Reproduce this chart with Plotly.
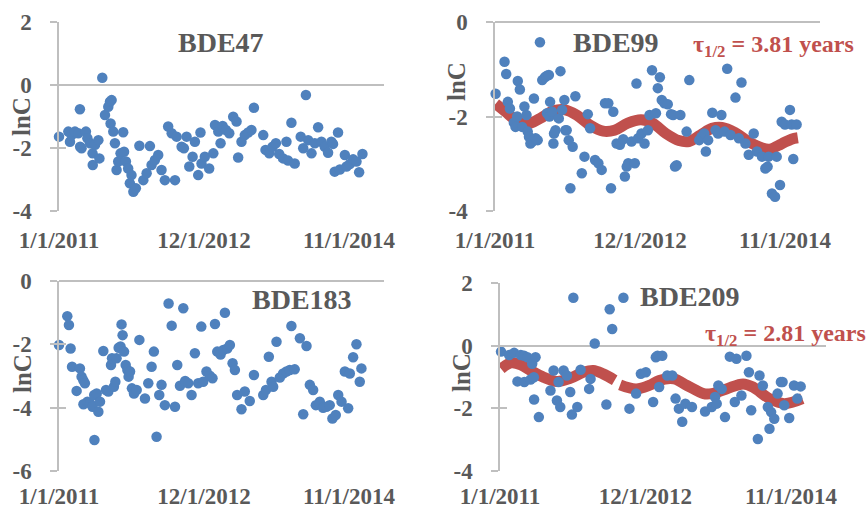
import pandas as pd
import plotly.graph_objects as go

START = pd.Timestamp("2011-01-01")
X_END = "2015-04-19"
X_TICKS = ["2011-01-01", "2012-12-01", "2014-11-01"]
X_TICKTEXT = ["1/1/2011", "12/1/2012", "11/1/2014"]

# ---- BDE47 (days since 1/1/2011, lnC) ----
bde47_day = [0, 45, 53, 61, 77, 93, 101, 102, 109, 130, 137, 150, 162, 163, 174, 190, 195, 209, 222, 238,
             246, 249, 254, 262, 270, 278, 286, 297, 310, 314, 323, 334, 342, 350, 359, 371, 388, 407, 423, 439,
             447, 463, 479, 495, 511, 527, 544, 560, 568, 592, 603, 616, 629, 645, 656, 672, 683, 688, 704, 725,
             745, 753, 769, 780, 790, 806, 822, 841, 857, 865, 881, 897, 913, 929, 941, 986, 997, 1015, 1031, 1047,
             1063, 1082, 1098, 1106, 1122, 1138, 1167, 1179, 1192, 1203, 1219, 1235, 1251, 1267, 1283, 1299, 1315,
             1323, 1331, 1347, 1356, 1380, 1388, 1404, 1420, 1436, 1449, 1465]
bde47_lnc = [-1.64, -1.48, -1.80, -1.59, -1.48, -1.53, -0.77, -1.96, -2.01, -1.48, -1.69, -1.85, -2.17, -2.54,
             -1.90, -1.75, -2.33, 0.23, -0.95, -0.69, -0.53, -1.22, -0.48, -1.48, -1.85, -2.70, -2.43, -2.17,
             -1.50, -2.12, -2.43, -2.65, -3.12, -2.86, -3.39, -3.28, -1.93, -3.02, -2.80, -1.94, -2.54, -2.38,
             -2.22, -2.70, -3.02, -1.32, -1.53, -3.02, -1.64, -1.96, -2.01, -1.64, -2.59, -2.28, -1.80, -2.86,
             -1.51, -2.49, -2.28, -2.65, -2.17, -1.27, -1.48, -1.85, -1.30, -1.43, -1.53, -1.01, -1.16, -2.30,
             -1.80, -1.59, -1.51, -1.43, -0.72, -1.59, -2.06, -2.17, -1.96, -1.85, -2.19, -2.33, -1.80, -2.40,
             -1.20, -2.49, -1.64, -2.01, -0.32, -1.75, -2.17, -1.85, -1.34, -1.80, -1.96, -2.15, -1.80, -1.87,
             -2.75, -1.51, -2.68, -2.22, -2.59, -2.51, -2.36, -2.43, -2.77, -2.19]

# ---- BDE99 ----
bde99_day = [3, 46, 54, 62, 72, 91, 99, 107, 110, 120, 131, 142, 152, 158, 164, 171, 180, 188, 196, 206,
             217, 228, 241, 250, 260, 251, 263, 266, 276, 282, 285, 292, 308, 316, 324, 335, 340, 346, 356, 364,
             375, 388, 419, 432, 448, 459, 483, 499, 515, 531, 547, 560, 571, 587, 603, 619, 627, 636, 643, 659,
             675, 683, 691, 707, 722, 738, 746, 758, 777, 786, 796, 805, 818, 834, 850, 860, 869, 877, 895, 925,
             938, 986, 997, 1010, 1018, 1029, 1049, 1065, 1077, 1093, 1108, 1121, 1137, 1161, 1177, 1190, 1209,
             1225, 1249, 1265, 1289, 1305, 1316, 1321, 1337, 1352, 1360, 1376, 1384, 1400, 1424, 1432, 1440, 1456]
bde99_lnc = [-1.52, -0.84, -1.10, -1.69, -1.83, -2.13, -2.22, -2.00, -1.25, -1.43, -2.22, -1.79, -1.97, -2.32,
             -2.43, -2.57, -2.53, -1.62, -2.46, -2.50, -0.43, -1.23, -1.17, -1.14, -1.12, -1.93, -2.00, -1.69,
             -1.90, -2.57, -2.36, -2.29, -2.04, -1.04, -1.86, -1.65, -2.29, -2.29, -2.50, -3.52, -2.64, -1.57,
             -3.20, -2.85, -1.95, -2.25, -2.92, -2.99, -3.13, -1.72, -1.72, -3.52, -1.90, -2.57, -2.60, -2.48,
             -3.27, -3.06, -2.99, -2.53, -2.99, -1.30, -2.46, -2.36, -2.57, -2.29, -1.97, -1.02, -1.93, -1.40,
             -1.17, -1.65, -1.72, -1.74, -1.95, -1.97, -3.06, -3.03, -1.97, -2.32, -1.23, -2.50, -2.43, -2.36,
             -2.74, -2.50, -1.92, -2.29, -2.36, -1.97, -2.32, -0.99, -2.39, -1.60, -2.46, -1.28, -2.57, -2.81,
             -2.36, -2.74, -2.85, -3.10, -3.06, -2.85, -3.63, -3.70, -2.85, -3.45, -2.11, -2.17, -1.86, -2.17,
             -2.90, -2.17]
bde99_fit_day = [3, 51, 99, 155, 218, 282, 338, 394, 458, 522, 577, 641, 705, 761, 825, 888, 936, 992, 1048,
                 1096, 1159, 1223, 1287, 1327, 1383, 1431, 1462]
bde99_fit_lnc = [-1.73, -1.90, -2.07, -2.16, -2.04, -1.88, -1.86, -1.97, -2.18, -2.31, -2.29, -2.14, -2.07,
                 -2.14, -2.36, -2.51, -2.53, -2.39, -2.25, -2.23, -2.34, -2.53, -2.66, -2.69, -2.58, -2.48, -2.45]

# ---- BDE183 ----
bde183_day = [0, 40, 48, 56, 63, 85, 101, 109, 117, 125, 118, 137, 150, 162, 170, 171, 182, 190, 198, 214,
              227, 238, 251, 256, 265, 272, 278, 288, 297, 302, 307, 314, 322, 330, 336, 343, 352, 362, 375, 388,
              415, 431, 447, 458, 471, 484, 495, 511, 529, 544, 560, 571, 584, 600, 609, 624, 640, 656, 672, 687,
              696, 712, 728, 741, 753, 764, 780, 793, 801, 812, 825, 838, 849, 860, 881, 897, 921, 941, 986, 999,
              1013, 1026, 1034, 1050, 1066, 1082, 1098, 1114, 1122, 1138, 1163, 1179, 1195, 1211, 1227, 1240, 1259,
              1275, 1291, 1307, 1320, 1336, 1348, 1364, 1380, 1396, 1404, 1420, 1436, 1452, 1460]
bde183_lnc = [-2.02, -1.11, -1.39, -2.13, -2.71, -3.47, -2.76, -3.02, -3.13, -3.23, -3.89, -3.81, -3.86, -3.97,
              -3.60, -5.02, -3.55, -4.13, -3.81, -2.21, -3.44, -3.49, -2.65, -2.44, -3.34, -3.18, -2.44, -2.11,
              -2.07, -1.37, -1.71, -2.23, -2.65, -2.81, -3.02, -2.86, -3.39, -3.55, -3.44, -1.86, -3.71, -3.23,
              -2.71, -2.23, -4.92, -3.60, -3.28, -3.92, -0.71, -1.41, -3.97, -2.65, -3.31, -0.86, -3.16, -3.23,
              -3.60, -2.28, -3.23, -1.44, -3.18, -2.86, -2.99, -3.07, -1.36, -2.23, -2.32, -2.18, -1.00, -2.13,
              -2.02, -2.60, -2.81, -3.60, -4.05, -3.49, -3.79, -2.97, -3.60, -3.44, -2.39, -3.18, -3.34, -1.92,
              -3.05, -2.92, -2.86, -2.81, -1.42, -2.79, -1.81, -4.21, -2.05, -3.28, -3.44, -3.92, -3.81, -4.00,
              -3.97, -3.92, -4.34, -4.23, -3.60, -3.81, -2.86, -4.02, -2.92, -2.41, -2.00, -3.18, -2.76]

# ---- BDE209 ----
bde209_day = [5, 44, 68, 84, 100, 116, 117, 132, 147, 155, 163, 164, 171, 187, 243, 258, 274, 282, 290, 306,
              322, 338, 346, 353, 372, 388, 429, 436, 456, 512, 528, 540, 594, 623, 655, 678, 702, 737, 750, 758,
              766, 781, 805, 829, 845, 861, 877, 892, 924, 987, 1019, 1035, 1043, 1051, 1067, 1083, 1106, 1130,
              1138, 1162, 1186, 1198, 1209, 1241, 1249, 1265, 1289, 1297, 1305, 1320, 1336, 1352, 1360, 1368,
              1392, 1415, 1431, 1447]
bde209_lnc = [-0.19, -0.30, -0.23, -1.14, -0.30, -0.32, -1.16, -0.37, -1.08, -0.58, -1.01, -1.72, -0.37, -2.28,
              -1.43, -0.79, -1.75, -1.16, -1.96, -0.79, -0.95, -1.48, -2.20, 1.53, -1.96, -0.77, -1.38, -1.06,
              0.07, -1.88, 1.16, 0.53, 1.53, -2.01, -1.53, -0.90, -0.85, -1.80, -0.37, -0.32, -1.32, -0.32,
              -0.95, -0.95, -1.69, -2.01, -2.43, -1.85, -1.96, -2.10, -1.96, -1.64, -1.85, -1.27, -1.38, -2.28,
              -0.35, -1.80, -0.42, -1.59, -0.32, -0.85, -2.06, -2.98, -0.95, -1.27, -1.96, -2.65, -2.12, -2.33,
              -1.53, -1.16, -1.16, -1.90, -2.31, -1.27, -1.69, -1.30]
bde209_fit_day = [5, 52, 100, 147, 211, 274, 338, 401, 449, 496, 552, 564, 578, 655, 718, 766, 837, 900, 980,
                  1019, 1090, 1170, 1217, 1297, 1368, 1455]
bde209_fit_lnc = [-0.74, -0.55, -0.61, -0.79, -1.01, -1.14, -1.04, -0.85, -0.79, -0.90, -1.10, None, -1.25,
                  -1.38, -1.27, -1.11, -1.06, -1.27, -1.53, -1.53, -1.38, -1.22, -1.32, -1.69, -1.85, -1.69]

BLUE = "#4F81BD"
RED = "#C0504D"
GRAY_TXT = "#595959"
AXIS = "#BFBFBF"
FONT = "Liberation Serif"

W, H = 866, 510


def dates(days):
    return [START + pd.Timedelta(days=d) for d in days]


# panels: (x px range, y px range, y range, y ticks, x label standoff)
panels = [
    dict(xpx=(59, 384), ypx=(22, 211), yr=(-4, 2), yt=[-4, -2, 0, 2], so=13),
    dict(xpx=(495, 820), ypx=(22, 211), yr=(-4, 0), yt=[-4, -2, 0], so=13),
    dict(xpx=(59, 384), ypx=(281, 471), yr=(-6, 0), yt=[-6, -4, -2, 0], so=9),
    dict(xpx=(500, 826), ypx=(283, 471), yr=(-4, 2), yt=[-4, -2, 0, 2], so=9),
]

fig = go.Figure()
layout = dict(width=W, height=H, margin=dict(l=0, r=0, t=0, b=0, autoexpand=False), paper_bgcolor="white",
              plot_bgcolor="white", showlegend=False, autosize=False)

for i, p in enumerate(panels):
    n = i + 1
    sx = "" if n == 1 else str(n)
    xd = [p["xpx"][0] / W, p["xpx"][1] / W]
    yd = [1 - p["ypx"][1] / H, 1 - p["ypx"][0] / H]
    layout["xaxis" + sx] = dict(domain=xd, anchor="y" + sx, type="date", range=["2011-01-01", X_END],
                                tickvals=X_TICKS, ticktext=X_TICKTEXT, showgrid=False, zeroline=False,
                                showline=False, ticks="", ticklabelstandoff=p["so"], automargin=False,
                                tickfont=dict(family=FONT, size=23, color=GRAY_TXT, weight="bold"))
    layout["yaxis" + sx] = dict(domain=yd, anchor="x" + sx, range=list(p["yr"]), tickvals=p["yt"],
                                ticktext=[str(v) for v in p["yt"]], showgrid=False, zeroline=True,
                                zerolinecolor=AXIS, zerolinewidth=1.5, showline=True, linecolor=AXIS,
                                linewidth=1.5, ticks="outside", ticklen=7, tickwidth=1.5, tickcolor=AXIS,
                                ticklabelstandoff=14, automargin=False,
                                tickfont=dict(family=FONT, size=23, color=GRAY_TXT, weight="bold"))
    # overlay axis for crossing tick marks
    ov = str(n + 4)
    layout["yaxis" + ov] = dict(overlaying="y" + sx, anchor="x" + sx, range=list(p["yr"]), tickvals=p["yt"],
                                showticklabels=False, showgrid=False, zeroline=False, showline=False,
                                ticks="inside", ticklen=7, tickwidth=1.5, tickcolor=AXIS, automargin=False)
    fig.add_trace(go.Scatter(x=[None], y=[None], xaxis="x" + sx, yaxis="y" + ov, hoverinfo="skip"))

series = [
    (bde47_day, bde47_lnc, None, None),
    (bde99_day, bde99_lnc, bde99_fit_day, bde99_fit_lnc),
    (bde183_day, bde183_lnc, None, None),
    (bde209_day, bde209_lnc, bde209_fit_day, bde209_fit_lnc),
]
for i, (d, v, fd, fv) in enumerate(series):
    n = i + 1
    sx = "" if n == 1 else str(n)
    if fd is not None:
        fig.add_trace(go.Scatter(x=dates(fd), y=fv, mode="lines", xaxis="x" + sx, yaxis="y" + sx,
                                 line=dict(color=RED, width=11, shape="spline", smoothing=1.0),
                                 connectgaps=False, cliponaxis=False))
    fig.add_trace(go.Scatter(x=dates(d), y=v, mode="markers", xaxis="x" + sx, yaxis="y" + sx,
                             marker=dict(color=BLUE, size=10.5, line=dict(width=0)), cliponaxis=False))

ann = []
titles = [("BDE47", 221, 42.5), ("BDE99", 616, 42), ("BDE183", 302, 299), ("BDE209", 690, 296)]
for t, x, y in titles:
    ann.append(dict(text="<b>" + t + "</b>", x=x / W, y=1 - y / H, xref="paper", yref="paper",
                    xanchor="center", yanchor="middle", showarrow=False,
                    font=dict(family=FONT, size=28, color=GRAY_TXT)))
for t, x, y in [("3.81", 691, 46), ("2.81", 703, 335)]:
    ann.append(dict(text="<b>τ<sub>1/2</sub> = " + t + " years</b>", x=x / W, y=1 - y / H, xref="paper",
                    yref="paper", xanchor="left", yanchor="middle", showarrow=False,
                    font=dict(family=FONT, size=24, color=RED)))
for x, y in [(22, 117), (457, 82), (22, 374), (461, 373)]:
    ann.append(dict(text="<b>lnC</b>", x=x / W, y=1 - y / H, xref="paper", yref="paper", textangle=-90,
                    xanchor="center", yanchor="middle", showarrow=False,
                    font=dict(family=FONT, size=25, color=GRAY_TXT)))
layout["annotations"] = ann
fig.update_layout(**layout)
fig.write_html("out.html")
